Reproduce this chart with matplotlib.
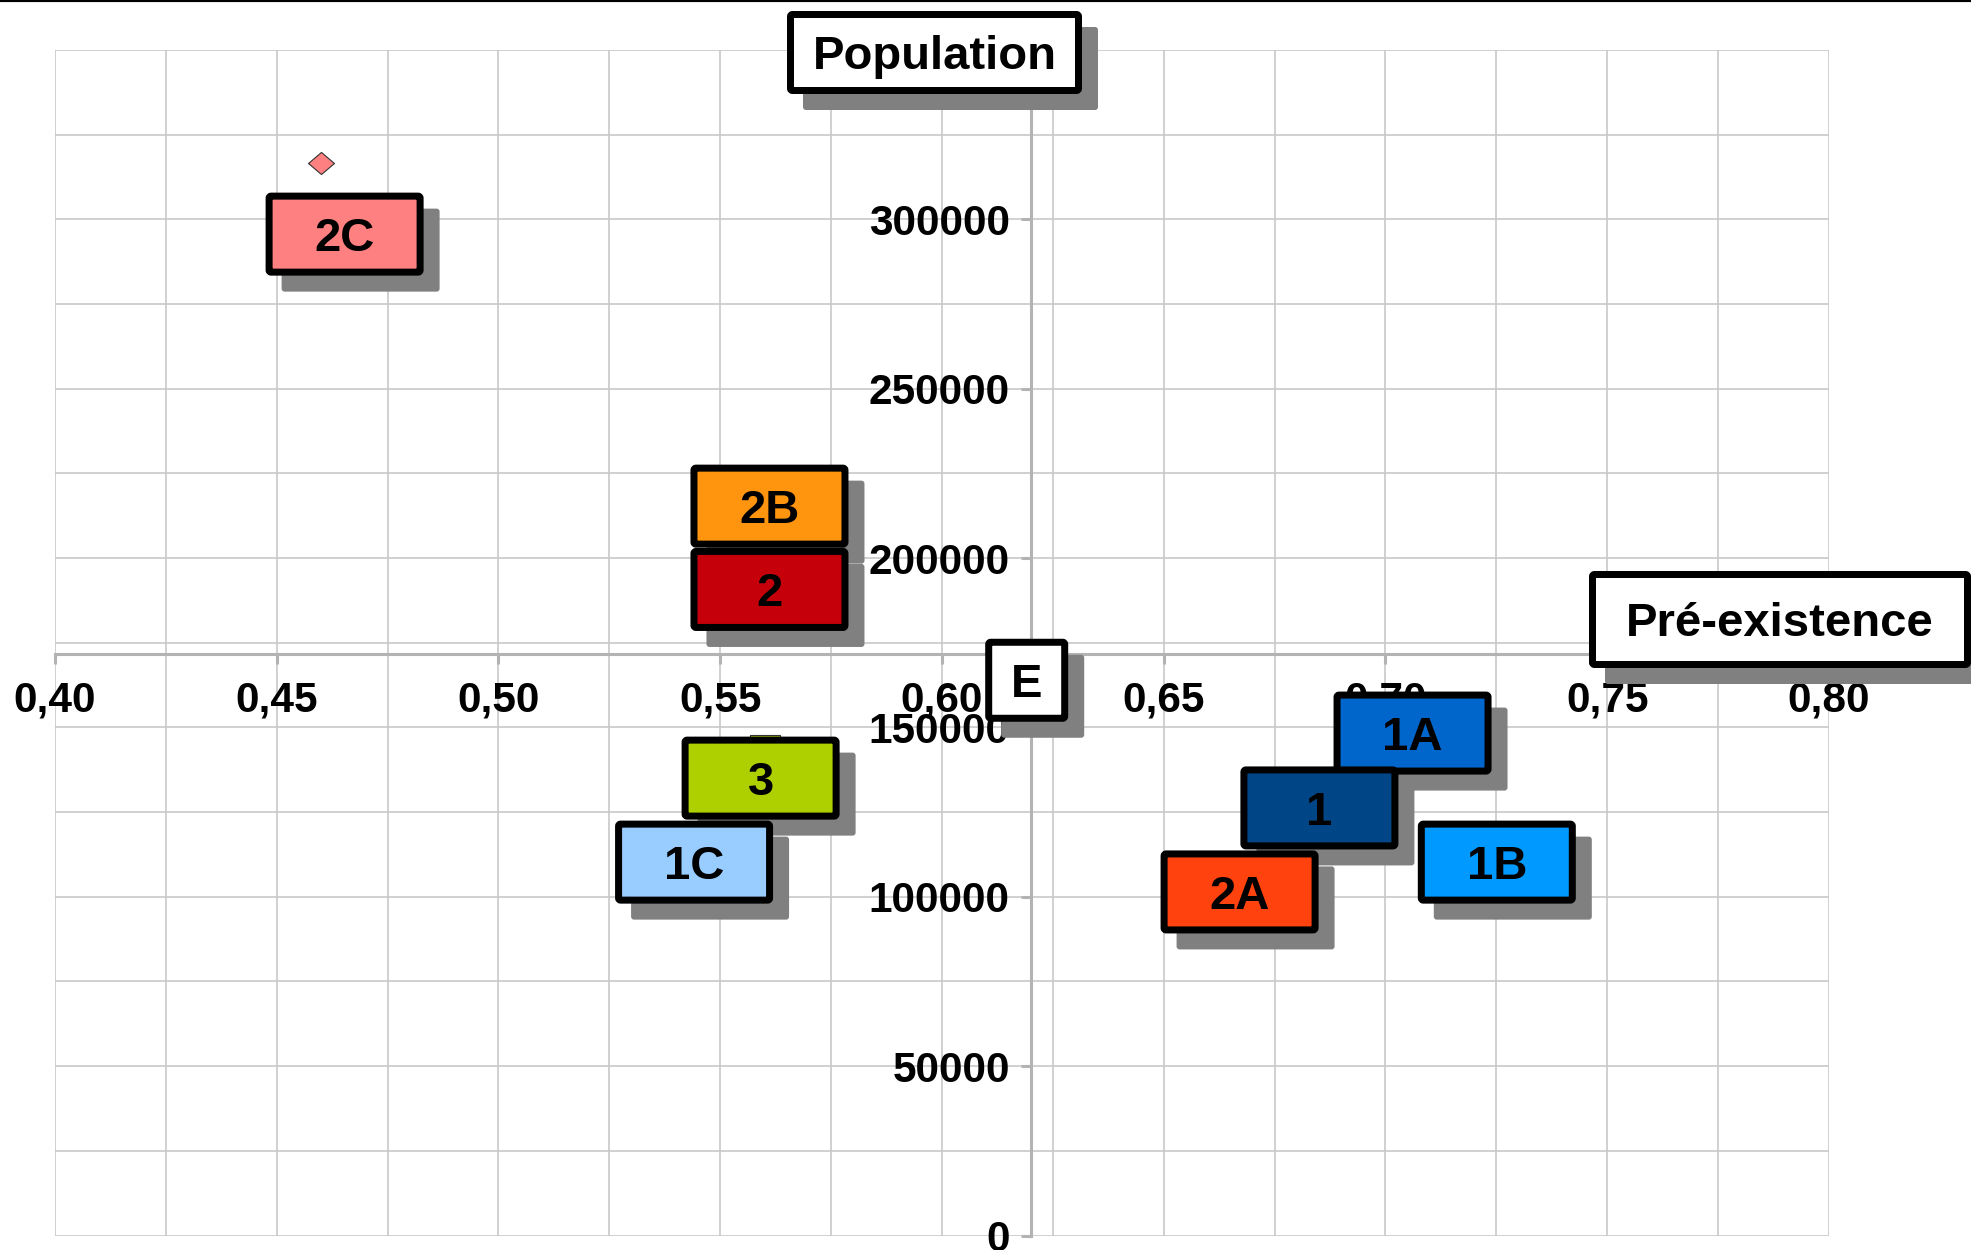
import matplotlib
matplotlib.use('Agg')
import matplotlib.pyplot as plt
from matplotlib.patches import FancyBboxPatch
from matplotlib.ticker import MultipleLocator, FuncFormatter
from matplotlib.transforms import ScaledTranslation
from matplotlib.lines import Line2D

plt.rcParams['font.family'] = ['Liberation Sans', 'DejaVu Sans']
plt.rcParams['font.weight'] = 'bold'

# --- data ---
labels = ['2C', '2B', '2', '3', '1C', '1A', '1', '2A', '1B', 'E']
pre_existence = [0.460, 0.562, 0.562, 0.560, 0.545, 0.707, 0.686, 0.668, 0.726, 0.620]
population = [316600, 223600, 199000, 143300, 118500, 156600, 134500, 109700, 118500, 171600]
colors = ['#ff8080', '#ff950e', '#c5000b', '#aecf00', '#99ccff',
          '#0066cc', '#004586', '#ff420e', '#0099ff', '#ffffff']

x_title = 'Pré-existence'
y_title = 'Population'

# label box offset from its point, in pixels (display, y up)
label_dx = [23.5, -4, -4, -4, -4, -4, -4, -4, -4, -4]
label_dy = [-71, -28, -28, -28, -28, -28, -28, -28, -28, -26]
box_w = [158, 158, 158, 158, 158, 158, 158, 158, 158, 83]
BOX_H = 83
BORDER = 7
SHADOW = 16

W, H, DPI = 1971, 1250, 100
fig = plt.figure(figsize=(W / DPI, H / DPI), dpi=DPI)
ax = fig.add_axes([55 / W, 14.5 / H, 1774 / W, 1185.5 / H])

ax.set_xlim(0.40, 0.80)
ax.set_ylim(0, 350000)

# axes cross at the E point
cross_x = pre_existence[labels.index('E')]
cross_y = population[labels.index('E')]
for side in ('top', 'right'):
    ax.spines[side].set_visible(False)
ax.spines['left'].set_position(('data', cross_x))
ax.spines['bottom'].set_position(('data', cross_y))
for side in ('left', 'bottom'):
    ax.spines[side].set_color('#b3b3b3')
    ax.spines[side].set_linewidth(2.2)

ax.xaxis.set_major_locator(MultipleLocator(0.05))
ax.xaxis.set_minor_locator(MultipleLocator(0.025))
ax.yaxis.set_major_locator(MultipleLocator(50000))
ax.yaxis.set_minor_locator(MultipleLocator(25000))
ax.xaxis.set_major_formatter(FuncFormatter(lambda v, p: f'{v:.2f}'.replace('.', ',')))
ax.yaxis.set_major_formatter(FuncFormatter(lambda v, p: f'{int(round(v))}'))
ax.set_axisbelow(True)
ax.grid(which='both', color='#c8c8c8', lw=1.2)
ax.tick_params(which='major', direction='out', length=7, width=2.2, color='#b3b3b3',
               labelsize=30.5, labelcolor='black')
ax.tick_params(axis='x', which='major', pad=12)
ax.tick_params(axis='y', which='major', pad=8)
ax.tick_params(which='minor', length=0)
for t in ax.get_xticklabels() + ax.get_yticklabels():
    t.set_fontweight('bold')

# markers (mostly hidden behind their labels)
diamond = [(-1, 0), (0, 0.85), (1, 0), (0, -0.85), (-1, 0)]
for i, lab in enumerate(labels):
    if lab == '2C':
        mk, ms = diamond, 18.7
    elif lab == '3':
        mk, ms = 's', 22.3
    else:
        mk, ms = 's', 10
    ax.plot(pre_existence[i], population[i], marker=mk, ms=ms, color=colors[i],
            mec='#333333', mew=0.8, ls='none', zorder=3, clip_on=False)


def draw_box(trans, cx, cy, w, h, fc, text, size, z, parent):
    # cx, cy, w, h in pixels relative to the origin of trans (inch based)
    parent.add_artist(FancyBboxPatch(((cx - w / 2 + SHADOW) / DPI, (cy - h / 2 - SHADOW) / DPI),
                                     w / DPI, h / DPI,
                                     boxstyle='round,pad=0,rounding_size=0.03',
                                     fc='#808080', ec='none', transform=trans,
                                     zorder=z, clip_on=False))
    inner_w, inner_h = w - BORDER, h - BORDER
    parent.add_artist(FancyBboxPatch(((cx - inner_w / 2) / DPI, (cy - inner_h / 2) / DPI),
                                     inner_w / DPI, inner_h / DPI,
                                     boxstyle='round,pad=0,rounding_size=0.02',
                                     fc=fc, ec='black', lw=BORDER * 72 / DPI,
                                     joinstyle='round', transform=trans,
                                     zorder=z + 0.01, clip_on=False))
    cap = size * DPI / 72 * 0.716
    return parent.text(cx / DPI, (cy - cap / 2) / DPI, text, transform=trans,
                       ha='center', va='baseline', fontsize=size, fontweight='bold',
                       color='black', zorder=z + 0.02, clip_on=False)


for i, lab in enumerate(labels):
    trans = fig.dpi_scale_trans + ScaledTranslation(pre_existence[i], population[i], ax.transData)
    draw_box(trans, label_dx[i], label_dy[i], box_w[i], BOX_H, colors[i], lab, 34, 4 + i * 0.1, ax)

# axis titles in boxes
fig_trans = fig.dpi_scale_trans
draw_box(fig_trans, 934.5, 1197.5, 295, 83, 'white', y_title, 34, 6, fig)
draw_box(fig_trans, 1780, 630.5, 382, 97, 'white', x_title, 34, 6, fig)

fig.add_artist(Line2D([0, 1], [1, 1], transform=fig.transFigure, color='black', lw=3, zorder=7))

fig.savefig('out.png', dpi=DPI)
